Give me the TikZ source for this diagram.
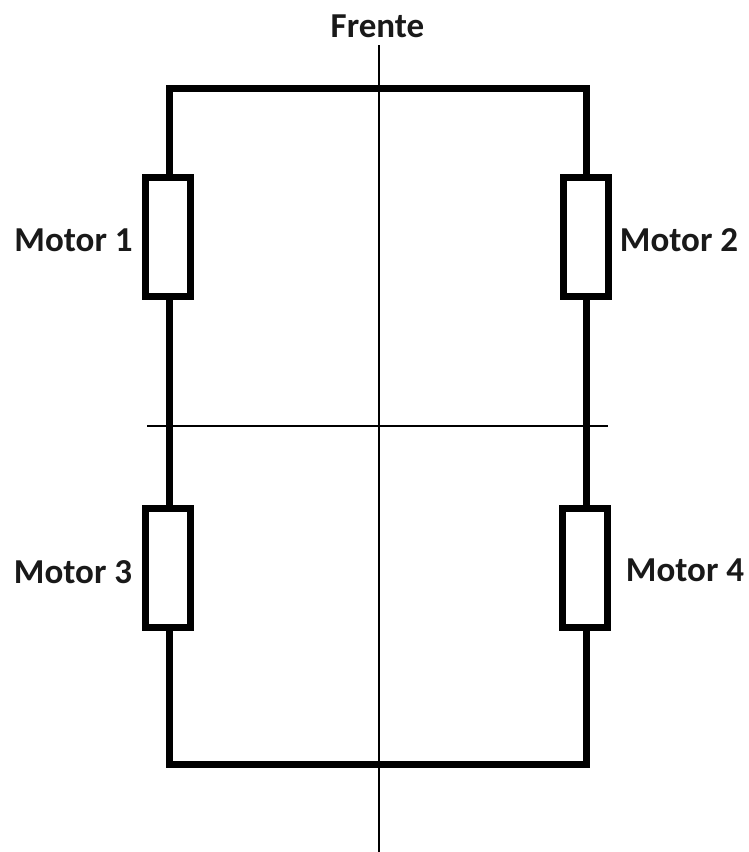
\documentclass[tikz,border=0pt]{standalone}
\usepackage{fontspec}
\setmainfont{Carlito}
\begin{document}
\begin{tikzpicture}[x=1pt,y=-1pt,
  wire/.style={line width=7pt,black,line cap=butt},
  motorbox/.style={draw=black,line width=7pt,fill=white,minimum width=45pt,minimum height=119pt,inner sep=0pt,outer sep=0pt,anchor=center},
  axis/.style={line width=1.4pt,black},
  lab/.style={font=\bfseries\fontsize{35}{39}\selectfont,text=black!90,inner sep=0pt,anchor=base}]
\path[use as bounding box] (0,0) rectangle (749,852);
\draw[wire,line join=miter] (169,425) -- (169,88) -- (586.5,88) -- (586.5,425) -- (586.5,764) -- (169,764) -- cycle;
\node[motorbox] (m1) at (168,237) {};
\node[motorbox] (m2) at (586,237) {};
\node[motorbox] (m3) at (168,568) {};
\node[motorbox] (m4) at (584.5,568) {};
\coordinate (vt) at (379,45);
\coordinate (vb) at (379,852);
\coordinate (hl) at (147,426);
\coordinate (hr) at (608,426);
\draw[axis] (vt) -- (vb);
\draw[axis] (hl) -- (hr);
\node[lab] (f) at (377.5,37) {Frente};
\node[lab] (t1) at (73.5,251) {Motor 1};
\node[lab] (t2) at (679,251) {Motor 2};
\node[lab] (t3) at (73,583) {Motor 3};
\node[lab] (t4) at (685,581) {Motor 4};
\end{tikzpicture}
\end{document}
